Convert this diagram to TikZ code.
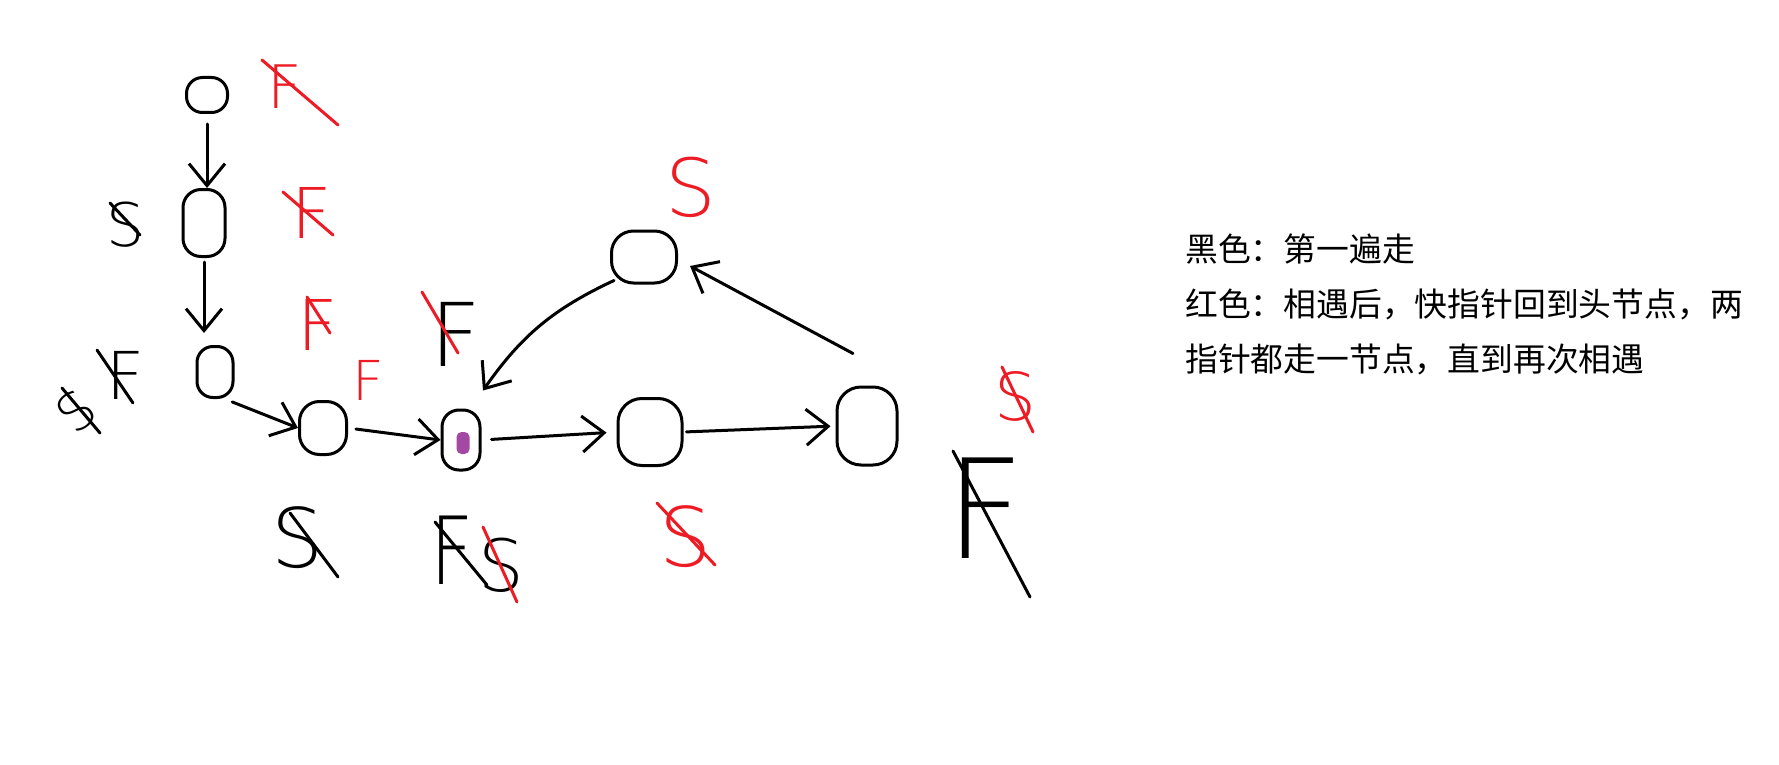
\documentclass[tikz,border=0pt]{standalone}
\usepackage{fontspec}
\usetikzlibrary{arrows.meta}
\newfontfamily\cjk{Noto Sans CJK SC}
\newfontfamily\hand{DejaVu Sans ExtraLight}
\definecolor{pred}{RGB}{237,28,36}
\definecolor{ppurple}{RGB}{163,73,164}
\tikzset{
  nd/.style={draw, line width=3pt, rounded corners=#1, inner sep=0pt},
  arr/.style={line width=3pt, line cap=round, -{Straight Barb[length=22pt,width=36pt]}},
  hl/.style={inner sep=0pt, font=\hand\fontsize{#1}{#1}\selectfont},
  strk/.style={line width=3pt, line cap=round},
  txt/.style={inner sep=0pt, anchor=base west, font=\cjk\fontsize{32.8}{40}\selectfont}
}
\begin{document}
\begin{tikzpicture}[x=1pt,y=-1pt]
\useasboundingbox (0,0) rectangle (1779,765);
\fill[white] (0,0) rectangle (1779,765);

% nodes
\node[nd=16pt, minimum width=41pt, minimum height=35pt] (n1) at (207,95) {};
\node[nd=18pt, minimum width=42pt, minimum height=67pt] (n2) at (204,223) {};
\node[nd=16pt, minimum width=36pt, minimum height=51pt] (n3) at (215,372) {};
\node[nd=20pt, minimum width=47pt, minimum height=53pt] (n4) at (323,428) {};
\node[nd=17pt, minimum width=38pt, minimum height=60pt] (n5) at (461,440) {};
\node[fill=ppurple, rounded corners=5pt, minimum width=13pt, minimum height=22pt, inner sep=0pt] (dot) at (463,443) {};
\node[nd=24pt, minimum width=64pt, minimum height=67pt] (n6) at (650,432) {};
\node[nd=24pt, minimum width=60pt, minimum height=78pt] (n7) at (867,426) {};
\node[nd=22pt, minimum width=65pt, minimum height=52pt] (n8) at (644,257) {};

% connectors
\draw[arr, shorten <=10pt] (n1.south) -- (n1.south |- n2.north);
\draw[arr, shorten <=4pt, shorten >=12pt] (n2.south) -- (n2.south |- n3.north);
\draw[arr, shorten <=8pt] (n3.-70) -- (n4.west);
\draw[arr, shorten <=8pt] (n4.east) -- (n5.west);
\draw[arr, shorten <=10pt, shorten >=10pt] (n5.east) -- (n6.west);
\draw[arr, shorten <=3pt, shorten >=5pt] (n6.east) -- (n7.west);
\draw[arr] ([shift={(-14pt,32pt)}]n7.north) -- ([shift={(12pt,-9pt)}]n8.east);
\draw[arr] ([shift={(4pt,4pt)}]n8.south west) to[bend right=15] ([shift={(22pt,18pt)}]n5.north);

% red labels
\node[hl=60, text=pred] (r1) at (285,87) {F};
\draw[strk, pred] (262,60) -- (338,125);
\node[hl=70, text=pred] (r2) at (312,213) {F};
\draw[strk, pred] (283,192) -- (333,235);
\node[hl=70, text=pred] (r3) at (318,325) {F};
\draw[strk, pred] (307,297) -- (330,333);
\node[hl=55, text=pred] (r4) at (368,380) {F};
\node[hl=80, text=pred] (r5) at (691,187) {S};
\node[hl=82, text=pred] (r6) at (686,537) {S};
\draw[strk, pred] (657,503) -- (715,565);
\node[hl=66, text=pred] (r7) at (1015,396) {S};
\draw[strk, pred] (1002,367) -- (1033,432);

% black labels
\node[hl=60] (b1) at (126,225) {S};
\draw[strk] (110,203) -- (140,235);
\node[hl=66] (b2) at (125,375) {F};
\draw[strk] (97,350) -- (133,403);
\node[hl=52, rotate=40] (b3) at (76,411) {S};
\draw[strk] (62,388) -- (100,433);
\node[hl=82] (b4) at (298,538) {S};
\draw[strk] (290,513) -- (338,577);
\node[hl=88] (b5) at (456,334) {F};
\draw[strk, pred] (422,292) -- (458,353);
\node[hl=94, xscale=0.8] (b6) at (452,550) {F};
\draw[strk] (435,522) -- (487,585);
\node[hl=72] (b7) at (501,565) {S};
\draw[strk, pred] (483,527) -- (517,602);
\node[hl=138] (b8) at (985,508) {F};
\draw[strk] (953,451) -- (1030,597);

% legend
\node[txt] (t1) at (1185,261) {黑色：第一遍走};
\node[txt] (t2) at (1185,316) {红色：相遇后，快指针回到头节点，两};
\node[txt] (t3) at (1185,371) {指针都走一节点，直到再次相遇};
\end{tikzpicture}
\end{document}
